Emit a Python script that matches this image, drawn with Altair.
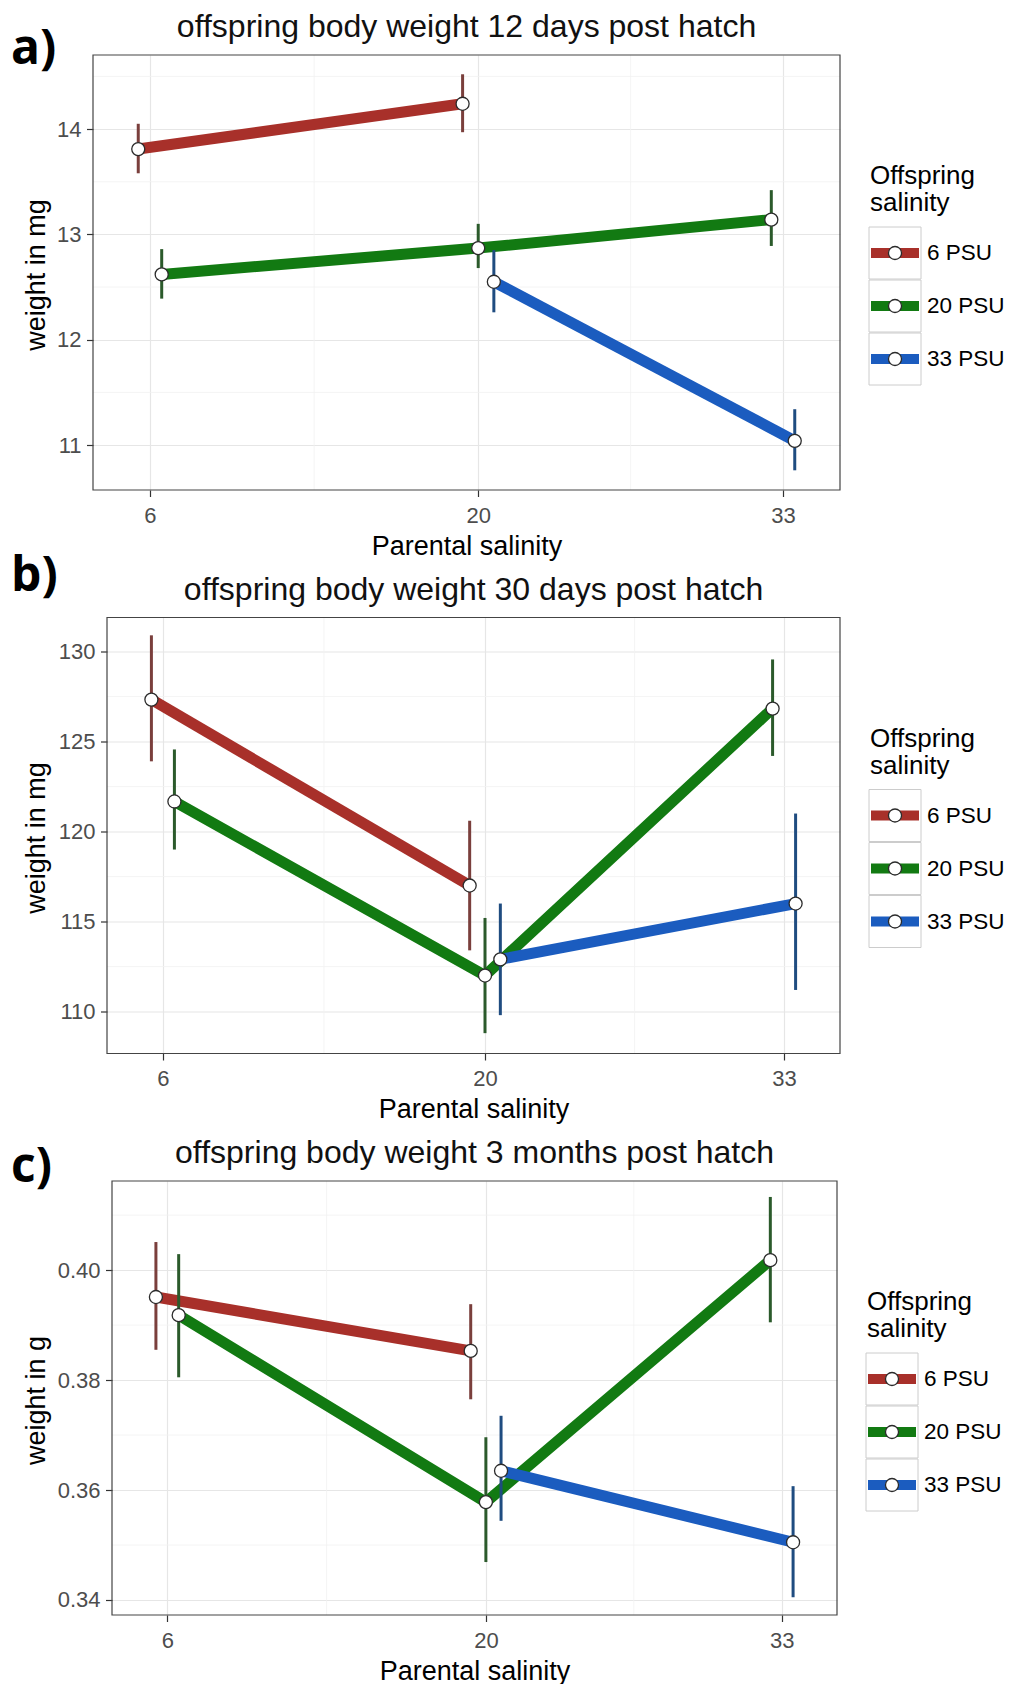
import altair as alt
import pandas as pd

# ---------------- data ----------------
parental = [6, 20, 33]
groups = ["6 PSU", "20 PSU", "33 PSU"]

# rows: offspring salinity / parental salinity
off = ["6 PSU", "6 PSU", "20 PSU", "20 PSU", "20 PSU", "33 PSU", "33 PSU"]
par = [6, 20, 6, 20, 33, 20, 33]

# a) 12 days post hatch (mg)
a_mean = [13.81, 14.24, 12.62, 12.87, 13.14, 12.55, 11.04]
a_lo = [13.58, 13.97, 12.39, 12.68, 12.89, 12.26, 10.76]
a_hi = [14.05, 14.52, 12.86, 13.10, 13.42, 12.85, 11.34]

# b) 30 days post hatch (mg)
b_mean = [127.33, 117.0, 121.67, 112.0, 126.83, 112.9, 116.0]
b_lo = [123.9, 113.4, 119.0, 108.8, 124.2, 109.8, 111.2]
b_hi = [130.9, 120.6, 124.56, 115.2, 129.56, 116.0, 121.0]

# c) 3 months post hatch (g)
c_mean = [0.3951, 0.3853, 0.3918, 0.3578, 0.4018, 0.3635, 0.3505]
c_lo = [0.3855, 0.3765, 0.3805, 0.3469, 0.3905, 0.3544, 0.3405]
c_hi = [0.4051, 0.3938, 0.4029, 0.3696, 0.4133, 0.3735, 0.3607]

a_ticks = [11, 12, 13, 14]
b_ticks = [110, 115, 120, 125, 130]
c_ticks = [0.34, 0.36, 0.38, 0.40]
a_minor = [11.5, 12.5, 13.5, 14.5]
b_minor = [112.5, 117.5, 122.5, 127.5]
c_minor = [0.35, 0.37, 0.39, 0.41]
x_minor = [13, 26.5]

# ---------------- styles ----------------
LINE_COLS = ["#A8302A", "#127A12", "#1B5CBF"]
EB_COLS = ["#7A3F3C", "#2B5A2B", "#1F4C80"]
FONT = "Liberation Sans"
X_DOMAIN = [3.57, 35.43]


def dodge(par, off, width=2.0):
    xs = []
    for p, o in zip(par, off):
        present = [g for g in groups if any(pp == p and oo == g for pp, oo in zip(par, off))]
        n = len(present)
        i = present.index(o)
        xs.append(p + (i - (n - 1) / 2) * width / n)
    return xs


def panel(tag, tag_x, tag_y, title, ytitle, ytitle_x, mean, lo, hi, ydom, yticks, yminor,
          yfmt, dx, w, h, top_ext=None):
    W = dx + w
    df = pd.DataFrame({"offspring": off, "parental": par, "x": dodge(par, off),
                       "mean": mean, "lo": lo, "hi": hi})
    xscale = alt.Scale(domain=X_DOMAIN, range=[dx, dx + w], nice=False, zero=False)
    yscale = alt.Scale(domain=ydom, nice=False, zero=False)
    xaxis = alt.Axis(values=parental, title="Parental salinity", labelPadding=8.5,
                     titleX=dx + w / 2, titleY=64, titleBaseline="alphabetic", grid=True)
    yaxis = alt.Axis(values=yticks, format=yfmt, title=ytitle, labelPadding=5.5, offset=-dx,
                     titleX=ytitle_x, titleY=h / 2 + 2, titleBaseline="alphabetic", grid=True)
    color = alt.Color("offspring:N", scale=alt.Scale(domain=groups, range=LINE_COLS), legend=None)

    base = alt.Chart(df)
    gx = alt.Chart(pd.DataFrame({"v": x_minor})).mark_rule(color="#f1f1f1", strokeWidth=0.8).encode(
        x=alt.X("v:Q", scale=xscale, axis=xaxis), y=alt.value(0), y2=alt.value(h))
    gy = alt.Chart(pd.DataFrame({"v": yminor})).mark_rule(color="#f1f1f1", strokeWidth=0.8).encode(
        y=alt.Y("v:Q", scale=yscale, axis=yaxis), x=alt.value(dx), x2=alt.value(W))
    lines = base.mark_line(strokeWidth=11, strokeCap="butt").encode(
        x=alt.X("x:Q", scale=xscale, axis=xaxis),
        y=alt.Y("mean:Q", scale=yscale, axis=yaxis),
        color=color)
    ebars = base.mark_rule(strokeWidth=3).encode(
        x=alt.X("x:Q", scale=xscale, axis=xaxis),
        y=alt.Y("lo:Q", scale=yscale, axis=yaxis),
        y2="hi:Q",
        stroke=alt.Stroke("offspring:N", scale=alt.Scale(domain=groups, range=EB_COLS), legend=None))
    pts = base.mark_point(filled=True, fill="white", stroke="#2b2b2b", strokeWidth=1.3,
                          size=170, opacity=1, shape="circle").encode(
        x=alt.X("x:Q", scale=xscale, axis=xaxis),
        y=alt.Y("mean:Q", scale=yscale, axis=yaxis))
    main = alt.layer(gx, gy, lines, ebars, pts)

    # manual legend
    leg = alt.Chart(pd.DataFrame({"offspring": groups}))
    ly = alt.Y("offspring:O", scale=alt.Scale(type="point", domain=groups, range=[198, 304], padding=0),
               axis=None)
    boxes = leg.mark_point(shape="square", size=52 * 52, filled=True, fill="white",
                           stroke="#cccccc", strokeWidth=1, opacity=1).encode(x=alt.value(W + 55), y=ly)
    keyl = leg.mark_rule(strokeWidth=10).encode(x=alt.value(W + 31), x2=alt.value(W + 79), y=ly, color=color)
    keyp = leg.mark_point(filled=True, fill="white", stroke="#2b2b2b", strokeWidth=1.3, size=170,
                          opacity=1, shape="circle").encode(x=alt.value(W + 55), y=ly)
    labs = leg.mark_text(align="left", baseline="middle", fontSize=22.5, color="#000000").encode(
        x=alt.value(W + 87), y=ly, text="offspring:N")
    legend = alt.layer(boxes, keyl, keyp, labs)

    one = alt.Chart(pd.DataFrame({"k": [0]}))
    frame = one.mark_rect(fillOpacity=0, stroke="#444444", strokeWidth=1.2).encode(
        x=alt.value(dx), x2=alt.value(W), y=alt.value(0), y2=alt.value(h))
    tag_t = one.mark_text(text=tag, font="Open Sans", fontWeight="bold", fontSize=48, align="left",
                          baseline="alphabetic", color="#000000").encode(x=alt.value(tag_x), y=alt.value(tag_y))
    title_t = one.mark_text(text=title, fontSize=32, align="center", baseline="alphabetic",
                            color="#111111").encode(x=alt.value(dx + w / 2), y=alt.value(-18))
    lt1 = one.mark_text(text="Offspring", fontSize=26, align="left", baseline="middle",
                        color="#000000").encode(x=alt.value(W + 30), y=alt.value(121))
    lt2 = one.mark_text(text="salinity", fontSize=26, align="left", baseline="middle",
                        color="#000000").encode(x=alt.value(W + 30), y=alt.value(148))
    annots = [frame, tag_t, title_t, lt1, lt2]
    if top_ext is not None:
        annots.append(one.mark_rule(opacity=0).encode(x=alt.value(dx + w / 2), y=alt.value(-top_ext),
                                                      y2=alt.value(0)))
    annot = alt.layer(*annots)

    return alt.layer(main, legend, annot).resolve_scale(y="independent").properties(width=W, height=h)


pa = panel("a)", -82, 9, "offspring body weight 12 days post hatch", "weight in mg", -49,
           a_mean, a_lo, a_hi, [10.573, 14.703], a_ticks, a_minor, "d", 0, 747, 435, top_ext=48)
pb = panel("b)", -82, -27, "offspring body weight 30 days post hatch", "weight in mg", -63,
           b_mean, b_lo, b_hi, [107.67, 131.89], b_ticks, b_minor, "d", 14, 733, 436)
pc = panel("c)", -82, 1, "offspring body weight 3 months post hatch", "weight in g", -68,
           c_mean, c_lo, c_hi, [0.33727, 0.4162], c_ticks, c_minor, ".2f", 19, 725, 434)

chart = alt.vconcat(pa, pb, pc, spacing=127.5, bounds="flush").properties(
    padding={"left": 11, "top": 7, "right": 5, "bottom": 5}
).configure(font=FONT, background="white").configure_view(
    stroke=None
).configure_axis(
    domain=False, tickColor="#333333", tickSize=6.5, tickWidth=1.2,
    labelFontSize=22, labelColor="#4d4d4d", labelFont=FONT,
    titleFontSize=27, titleFontWeight="normal", titleColor="#000000", titleFont=FONT,
    gridColor="#e6e6e6", gridWidth=1.2
)

chart.save("out.html", embed_options={"renderer": "svg", "actions": False})
